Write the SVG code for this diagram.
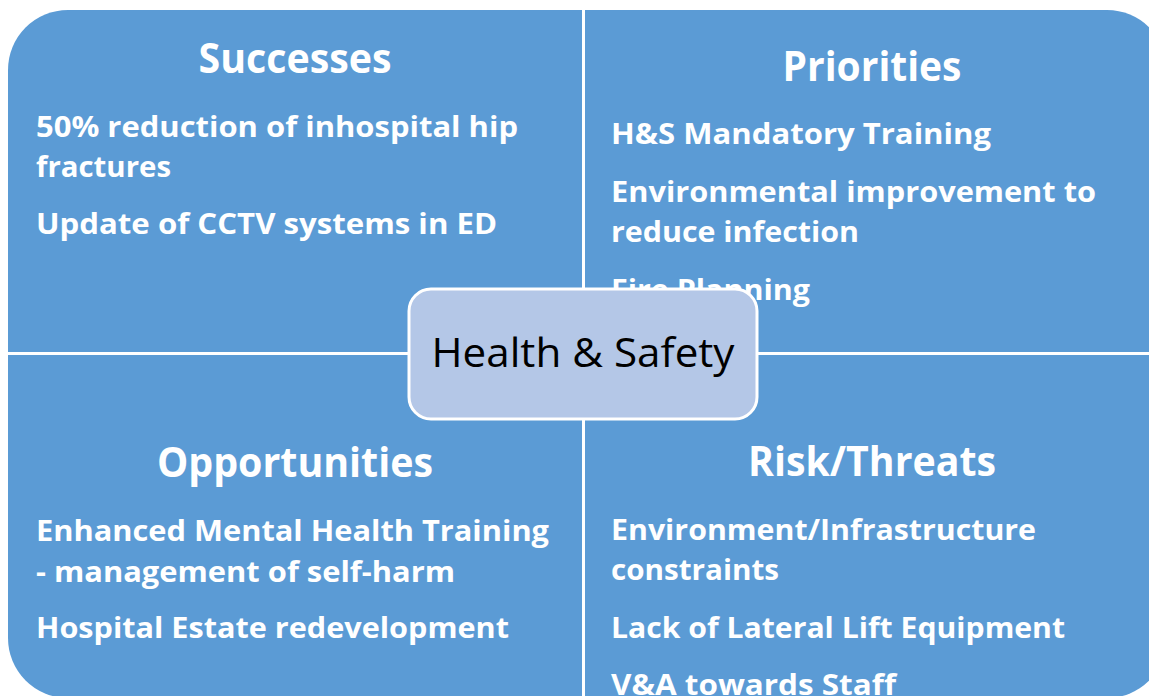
<svg xmlns="http://www.w3.org/2000/svg" width="1149" height="696" viewBox="0 0 1149 696">
  <style>
    .quad { fill: #5B9BD5; }
    .title { font-family: "Open Sans", "Liberation Sans", sans-serif; font-weight: bold; font-size: 41px; fill: #FFFFFF; text-anchor: middle; }
    .item { font-family: "Open Sans", "Liberation Sans", sans-serif; font-weight: bold; font-size: 29px; fill: #FFFFFF; }
    .hub { fill: #B4C7E7; stroke: #FFFFFF; stroke-width: 3; }
    .hub-label { font-family: "Open Sans", "Liberation Sans", sans-serif; font-size: 41px; fill: #000000; text-anchor: middle; }
  </style>
  <rect width="1149" height="696" fill="#FFFFFF"/>

  <!-- Top-left quadrant -->
  <g id="successes">
    <path class="quad" d="M8,70 A60,60 0 0 1 68,10 L582,10 L582,352 L8,352 Z"/>
    <text class="title" x="295" y="73" textLength="193" lengthAdjust="spacingAndGlyphs">Successes</text>
    <text class="item" x="36" y="137" textLength="482" lengthAdjust="spacingAndGlyphs">50% reduction of inhospital hip</text>
    <text class="item" x="36" y="177" textLength="135" lengthAdjust="spacingAndGlyphs">fractures</text>
    <text class="item" x="36" y="234" textLength="461" lengthAdjust="spacingAndGlyphs">Update of CCTV systems in ED</text>
  </g>

  <!-- Top-right quadrant -->
  <g id="priorities">
    <path class="quad" d="M585,10 L1107,10 A60,60 0 0 1 1167,70 L1167,352 L585,352 Z"/>
    <text class="title" x="872" y="81" textLength="179" lengthAdjust="spacingAndGlyphs">Priorities</text>
    <text class="item" x="611" y="144" textLength="380" lengthAdjust="spacingAndGlyphs">H&amp;S Mandatory Training</text>
    <text class="item" x="611" y="202" textLength="485" lengthAdjust="spacingAndGlyphs">Environmental improvement to</text>
    <text class="item" x="611" y="242" textLength="248" lengthAdjust="spacingAndGlyphs">reduce infection</text>
    <text class="item" x="611" y="300" textLength="199" lengthAdjust="spacingAndGlyphs">Fire Planning</text>
  </g>

  <!-- Bottom-left quadrant -->
  <g id="opportunities">
    <path class="quad" d="M8,355 L582,355 L582,698 L68,698 A60,60 0 0 1 8,638 Z"/>
    <text class="title" x="295" y="477" textLength="276" lengthAdjust="spacingAndGlyphs">Opportunities</text>
    <text class="item" x="36" y="541" textLength="513" lengthAdjust="spacingAndGlyphs">Enhanced Mental Health Training</text>
    <text class="item" x="36" y="582" textLength="419" lengthAdjust="spacingAndGlyphs">- management of self-harm</text>
    <text class="item" x="36" y="638" textLength="473" lengthAdjust="spacingAndGlyphs">Hospital Estate redevelopment</text>
  </g>

  <!-- Bottom-right quadrant -->
  <g id="risks">
    <path class="quad" d="M585,355 L1167,355 L1167,638 A60,60 0 0 1 1107,698 L585,698 Z"/>
    <text class="title" x="872" y="476" textLength="248" lengthAdjust="spacingAndGlyphs">Risk/Threats</text>
    <text class="item" x="611" y="540" textLength="425" lengthAdjust="spacingAndGlyphs">Environment/Infrastructure</text>
    <text class="item" x="611" y="580" textLength="168" lengthAdjust="spacingAndGlyphs">constraints</text>
    <text class="item" x="611" y="638" textLength="454" lengthAdjust="spacingAndGlyphs">Lack of Lateral Lift Equipment</text>
    <text class="item" x="611" y="695" textLength="285" lengthAdjust="spacingAndGlyphs">V&amp;A towards Staff</text>
  </g>

  <!-- Centre hub -->
  <g id="health-safety">
    <rect class="hub" x="409" y="289" width="348" height="130" rx="22" ry="22"/>
    <text class="hub-label" x="583" y="367" textLength="303" lengthAdjust="spacingAndGlyphs">Health &amp; Safety</text>
  </g>

  <g id="connectors"/>
</svg>
